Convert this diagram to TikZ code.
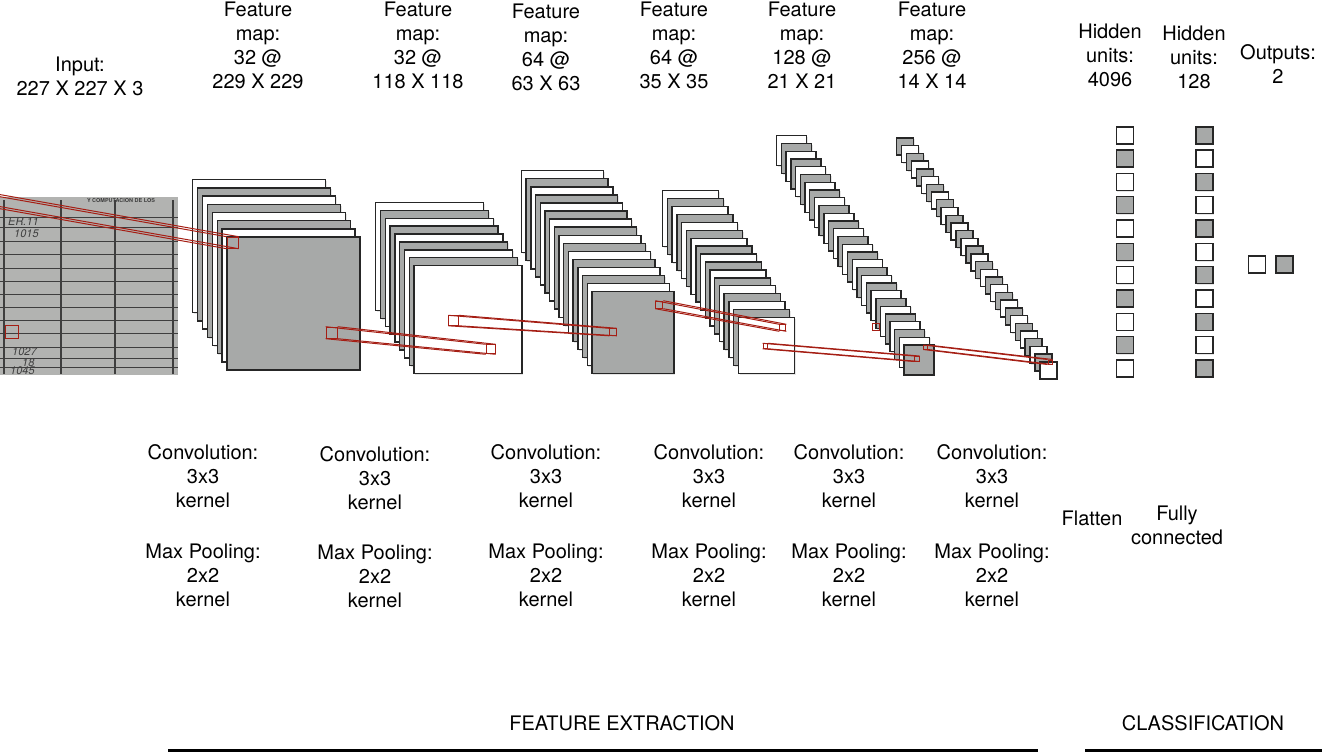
\documentclass[tikz,border=0pt]{standalone}
\usepackage{fontspec}
\setmainfont{TeX Gyre Heros}
\usetikzlibrary{positioning,shadows}
\definecolor{mapgray}{RGB}{167,169,168}
\definecolor{photogray}{RGB}{178,179,177}
\definecolor{inkgray}{RGB}{62,62,62}
\definecolor{kred}{RGB}{165,30,20}

\begin{document}
\begin{tikzpicture}[x=1pt,y=-1pt,
		sheet/.style={shape=rectangle,draw=black!85,line width=1.4pt,inner sep=0pt,anchor=north west,
			drop shadow={shadow xshift=1.2pt,shadow yshift=-1.2pt,opacity=.2}},
		unit/.style={sheet,minimum size=17pt,anchor=center},
		kernel/.style={shape=rectangle,draw=kred,line width=1pt,inner sep=0pt,anchor=north west},
		tube/.style={draw=kred,line width=1pt},
		lbl/.style={align=center,inner sep=0pt,font=\fontsize{20}{24}\selectfont},
		hand/.style={inner sep=0pt,anchor=west,text=inkgray,font=\fontsize{11}{11}\selectfont\itshape}]
		\useasboundingbox (0,0) rectangle (1322,753);
		\clip (0,0) rectangle (1322,753);

		% input image
		\fill[photogray] (0,197) rectangle (178,375);
		\foreach \y in {217,227,241,254,268,281,294,307,320,333,347,358,367}
			\draw[inkgray,line width=.8pt] (0,\y) -- (178,\y);
		\foreach \x in {4,61,115,173}
			\draw[inkgray,line width=1.3pt] (\x,200) -- (\x,374);
		\node[inner sep=0pt,text=inkgray,font=\fontsize{5.5}{6}\selectfont\bfseries] (hdr) at (121,200) {Y COMPUTACION DE LOS};
		\node[hand] (w1) at (8,221) {ER.11};
		\node[hand] (w2) at (14,234) {1015};
		\node[hand] (w3) at (12,352) {1027};
		\node[hand] (w4) at (22,362.5) {18};
		\node[hand] (w5) at (10,371) {1045};

		% feature maps
		\foreach \i in {0,...,7}{
			\ifodd\i \def\sheetcol{mapgray}\else\def\sheetcol{white}\fi
			\node[sheet,fill=\sheetcol,minimum size=133pt] (a\i) at ({192+4.9*\i},{179+8.2*\i}) {};}
		\foreach \i in {0,...,8}{
			\ifodd\i \def\sheetcol{mapgray}\else\def\sheetcol{white}\fi
			\node[sheet,fill=\sheetcol,minimum size=108pt] (b\i) at ({375+4.8*\i},{201.7+7.9*\i}) {};}
		\foreach \i in {0,...,15}{
			\ifodd\i \def\sheetcol{mapgray}\else\def\sheetcol{white}\fi
			\node[sheet,fill=\sheetcol,minimum size=82pt] (c\i) at ({520.7+4.7*\i},{170+8.07*\i}) {};}
		\foreach \i in {0,...,16}{
			\ifodd\i \def\sheetcol{mapgray}\else\def\sheetcol{white}\fi
			\node[sheet,fill=\sheetcol,minimum size=56pt] (d\i) at ({662+4.73*\i},{190+7.92*\i}) {};}
		\foreach \i in {0,...,27}{
			\ifodd\i \def\sheetcol{mapgray}\else\def\sheetcol{white}\fi
			\node[sheet,fill=\sheetcol,minimum size=30pt] (e\i) at ({776+4.72*\i},{135+7.75*\i}) {};}
		\foreach \i in {0,...,29}{
			\ifodd\i \def\sheetcol{white}\else\def\sheetcol{mapgray}\fi
			\node[sheet,fill=\sheetcol,minimum size=17pt] (f\i) at ({896+4.94*\i},{137.3+7.72*\i}) {};}

		% dense layers
		\foreach \i in {0,...,10}{
			\ifodd\i \def\sheetcol{mapgray}\else\def\sheetcol{white}\fi
			\node[unit,fill=\sheetcol] (h\i) at (1124.7,{135.3+23.3*\i}) {};}
		\foreach \i in {0,...,10}{
			\ifodd\i \def\sheetcol{white}\else\def\sheetcol{mapgray}\fi
			\node[unit,fill=\sheetcol] (g\i) at (1204.3,{135.3+23.3*\i}) {};}
		\node[unit,fill=white] (o1) at (1256.7,264.3) {};
		\node[unit,fill=mapgray] (o2) at (1284.5,264.3) {};

		% kernels
		\node[kernel,minimum size=13pt] (kin) at (5,325) {};
		\node[kernel,draw=none,minimum size=11pt] (k0) at (-30,191.4) {};
		\node[kernel,minimum size=11pt] (k1) at (226.7,236.7) {};
		\node[kernel,minimum size=11pt] (k2) at (325.7,326.7) {};
		\node[kernel,minimum size=9pt] (k3) at (485.7,344.3) {};
		\node[kernel,minimum size=9.5pt] (k4) at (448.3,315.3) {};
		\node[kernel,minimum size=6.5pt] (k5) at (609.3,328.3) {};
		\node[kernel,minimum size=7pt] (k6) at (655.3,300.7) {};
		\node[kernel,minimum size=6pt] (k7) at (779.3,324.3) {};
		\node[kernel,minimum size=4.5pt] (k8) at (762.7,343.3) {};
		\node[kernel,minimum size=4.5pt] (k9) at (914,356) {};
		\node[kernel,minimum size=7.5pt] (ke) at (871.7,322.7) {};
		\node[kernel,minimum size=3.5pt] (k10) at (923.3,345) {};
		\node[kernel,minimum size=4pt] (k11) at (1047.5,359.5) {};
		\foreach \cn in {north west,north east,south west,south east}{
			\draw[tube] (k0.\cn) -- (k1.\cn);
			\draw[tube] (k2.\cn) -- (k3.\cn);
			\draw[tube] (k4.\cn) -- (k5.\cn);
			\draw[tube] (k6.\cn) -- (k7.\cn);
			\draw[tube] (k8.\cn) -- (k9.\cn);
			\draw[tube] (k10.\cn) -- (k11.\cn);}

		% labels
		\node[lbl] (tin) at (80,76) {Input:\\227 X 227 X 3};
		\node[lbl] (ta) at (258,45) {Feature\\map:\\32 @\\229 X 229};
		\node[lbl] (tb) at (418,45) {Feature\\map:\\32 @\\118 X 118};
		\node[lbl] (tc) at (546,47) {Feature\\map:\\64 @\\63 X 63};
		\node[lbl] (td) at (674,45) {Feature\\map:\\64 @\\35 X 35};
		\node[lbl] (te) at (802,45) {Feature\\map:\\128 @\\21 X 21};
		\node[lbl] (tf) at (932,45) {Feature\\map:\\256 @\\14 X 14};
		\node[lbl] (th) at (1110,55) {Hidden\\units:\\4096};
		\node[lbl] (tg) at (1194,57.5) {Hidden\\units:\\128};
		\node[lbl] (to) at (1278,64) {Outputs:\\2};

		\node[lbl] (ca) at (203,476) {Convolution:\\3x3\\kernel};
		\node[lbl] (cb) at (375,478) {Convolution:\\3x3\\kernel};
		\node[lbl] (cc) at (546,476) {Convolution:\\3x3\\kernel};
		\node[lbl] (cd) at (709,476) {Convolution:\\3x3\\kernel};
		\node[lbl] (ce) at (849,476) {Convolution:\\3x3\\kernel};
		\node[lbl] (cf) at (992,476) {Convolution:\\3x3\\kernel};
		\node[lbl] (pa) at (203,575) {Max Pooling:\\2x2\\kernel};
		\node[lbl] (pb) at (375,576) {Max Pooling:\\2x2\\kernel};
		\node[lbl] (pc) at (546,575) {Max Pooling:\\2x2\\kernel};
		\node[lbl] (pd) at (709,575) {Max Pooling:\\2x2\\kernel};
		\node[lbl] (pe) at (849,575) {Max Pooling:\\2x2\\kernel};
		\node[lbl] (pf) at (992,575) {Max Pooling:\\2x2\\kernel};
		\node[lbl] (flat) at (1092,518) {Flatten};
		\node[lbl] (fc) at (1177,525.5) {Fully\\connected};

		\node[lbl] (fe) at (622,723) {FEATURE EXTRACTION};
		\node[lbl] (cl) at (1203,723) {CLASSIFICATION};
		\draw[line width=3pt] (168,750.5) -- (1038,750.5);
		\draw[line width=3pt] (1085,750.5) -- (1322,750.5);
	\end{tikzpicture}
\end{document}
